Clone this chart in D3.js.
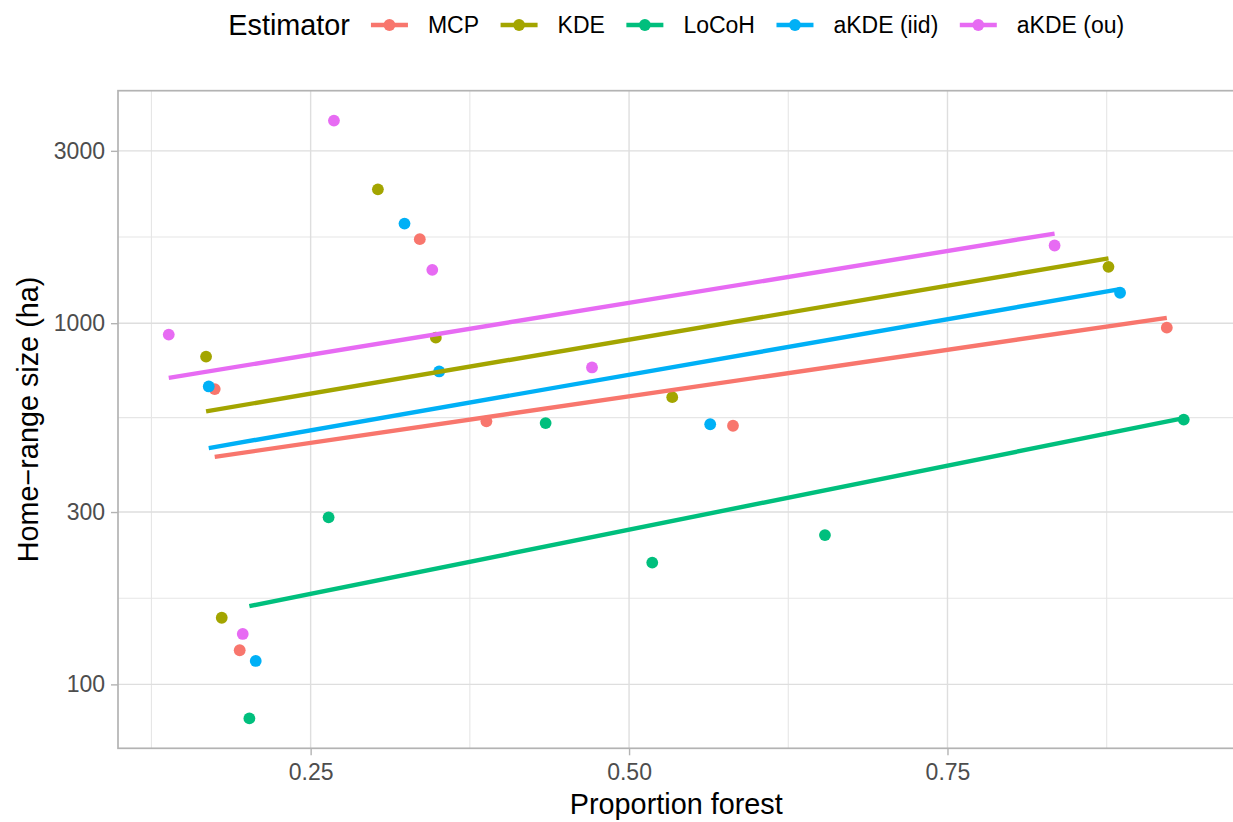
<!DOCTYPE html>
<html>
<head>
<meta charset="utf-8">
<script src="https://cdn.jsdelivr.net/npm/d3@7"></script>
<style>
  html, body { margin: 0; padding: 0; background: #ffffff; }
  svg { display: block; font-family: "Liberation Sans", Arial, Helvetica, sans-serif; }
</style>
</head>
<body>
<svg id="chart" width="1233" height="822"></svg>
<script>
// ---------------- data ----------------
const estimators = ["MCP", "KDE", "LoCoH", "aKDE (iid)", "aKDE (ou)"];
const estimatorColors = ["#F8766D", "#A3A500", "#00BF7D", "#00B0F6", "#E76BF3"];

const forestMCP   = [0.1747, 0.3357, 0.3880, 0.5816, 0.9222, 0.1943];
const areaMCP     = [657, 1708, 535, 520, 972, 124.3];

const forestKDE   = [0.1679, 0.3028, 0.3483, 0.5339, 0.8764, 0.1802];
const areaKDE     = [808, 2347, 912, 624, 1432, 152.9];

const forestLoCoH = [0.2641, 0.4345, 0.5182, 0.6538, 0.9355, 0.2019];
const areaLoCoH   = [290, 529, 217.4, 259, 541, 80.5];

const forestIID   = [0.1700, 0.3237, 0.3509, 0.5637, 0.8855, 0.2069];
const areaIID     = [668, 1887, 735, 525, 1214, 116.1];

const forestOU    = [0.1386, 0.2683, 0.3455, 0.4709, 0.8341, 0.1967];
const areaOU      = [930, 3638, 1405, 754, 1641, 137.9];

const xTickValues = [0.25, 0.50, 0.75];
const xTickLabels = ["0.25", "0.50", "0.75"];
const yTickValues = [100, 300, 1000, 3000];
const yTickLabels = ["100", "300", "1000", "3000"];

const xTitle = "Proportion forest";
const yTitle = "Home\u2212range size (ha)";
const legendTitle = "Estimator";

// ---------------- build ----------------
const forestBy = [forestMCP, forestKDE, forestLoCoH, forestIID, forestOU];
const areaBy   = [areaMCP, areaKDE, areaLoCoH, areaIID, areaOU];
const series = estimators.map((name, i) => ({
  name, color: estimatorColors[i],
  points: forestBy[i].map((f, j) => ({ x: f, y: areaBy[i][j] }))
}));
const allPts = series.flatMap(s => s.points);

const svg = d3.select("#chart");
const panel = { left: 118, right: 1234.5, top: 90.7, bottom: 748.3 };

// ggplot-like 5% expansion
const xExt = d3.extent(allPts, d => d.x);
const xPad = (xExt[1] - xExt[0]) * 0.05;
const x = d3.scaleLinear().domain([xExt[0] - xPad, xExt[1] + xPad]).range([panel.left, panel.right]);

const lyExt = d3.extent(allPts, d => Math.log10(d.y));
const lyPad = (lyExt[1] - lyExt[0]) * 0.05;
const y = d3.scaleLog().domain([Math.pow(10, lyExt[0] - lyPad), Math.pow(10, lyExt[1] + lyPad)])
  .range([panel.bottom, panel.top]);

// grid
const grid = svg.append("g");
const xMinor = [];
const xStep = xTickValues[1] - xTickValues[0];
for (let v = xTickValues[0] - xStep / 2; v <= x.domain()[1]; v += xStep) if (v >= x.domain()[0]) xMinor.push(v);
const yMinor = [];
for (let i = 0; i < yTickValues.length - 1; i++) yMinor.push(Math.sqrt(yTickValues[i] * yTickValues[i + 1]));

grid.selectAll(".xminor").data(xMinor).join("line")
  .attr("x1", d => x(d)).attr("x2", d => x(d)).attr("y1", panel.top).attr("y2", panel.bottom)
  .attr("stroke", "#E6E6E6").attr("stroke-width", 1.1);
grid.selectAll(".yminor").data(yMinor).join("line")
  .attr("y1", d => y(d)).attr("y2", d => y(d)).attr("x1", panel.left).attr("x2", panel.right)
  .attr("stroke", "#E6E6E6").attr("stroke-width", 1.1);
grid.selectAll(".xmajor").data(xTickValues).join("line")
  .attr("x1", d => x(d)).attr("x2", d => x(d)).attr("y1", panel.top).attr("y2", panel.bottom)
  .attr("stroke", "#DEDEDE").attr("stroke-width", 1.4);
grid.selectAll(".ymajor").data(yTickValues).join("line")
  .attr("y1", d => y(d)).attr("y2", d => y(d)).attr("x1", panel.left).attr("x2", panel.right)
  .attr("stroke", "#DEDEDE").attr("stroke-width", 1.4);

// axes (ticks + labels)
const xAxis = d3.axisBottom(x).tickValues(xTickValues).tickFormat((d, i) => xTickLabels[i])
  .tickSizeInner(7).tickSizeOuter(0).tickPadding(8);
const gx = svg.append("g").attr("transform", `translate(0,${panel.bottom})`).call(xAxis);
gx.select(".domain").remove();
gx.selectAll("line").attr("stroke", "#B3B3B3").attr("stroke-width", 1.4);
gx.selectAll("text").attr("fill", "#4D4D4D").attr("font-size", 23).attr("font-family", "Liberation Sans, Arial, sans-serif");

const yAxis = d3.axisLeft(y).tickValues(yTickValues).tickFormat((d, i) => yTickLabels[i])
  .tickSizeInner(7).tickSizeOuter(0).tickPadding(6);
const gy = svg.append("g").attr("transform", `translate(${panel.left},0)`).call(yAxis);
gy.select(".domain").remove();
gy.selectAll("line").attr("stroke", "#B3B3B3").attr("stroke-width", 1.4);
gy.selectAll("text").attr("fill", "#4D4D4D").attr("font-size", 23).attr("font-family", "Liberation Sans, Arial, sans-serif");

// panel border
svg.append("rect")
  .attr("x", panel.left).attr("y", panel.top)
  .attr("width", panel.right - panel.left).attr("height", panel.bottom - panel.top)
  .attr("fill", "none").attr("stroke", "#B3B3B3").attr("stroke-width", 1.7);

// points
const plot = svg.append("g");
series.forEach(s => {
  plot.append("g").selectAll("circle").data(s.points).join("circle")
    .attr("cx", d => x(d.x)).attr("cy", d => y(d.y)).attr("r", 5.9)
    .attr("fill", s.color);
});

// linear fit of log10(area) on forest (geom_smooth, method = "lm")
series.forEach(s => {
  const xs = s.points.map(p => p.x), ls = s.points.map(p => Math.log10(p.y));
  const mx = d3.mean(xs), ml = d3.mean(ls);
  const b = d3.sum(xs, (v, i) => (v - mx) * (ls[i] - ml)) / d3.sum(xs, v => (v - mx) * (v - mx));
  const a = ml - b * mx;
  const [x0, x1] = d3.extent(xs);
  const fit = [x0, x1].map(v => ({ x: v, y: Math.pow(10, a + b * v) }));
  plot.append("path").datum(fit)
    .attr("d", d3.line().x(d => x(d.x)).y(d => y(d.y)))
    .attr("fill", "none").attr("stroke", s.color).attr("stroke-width", 4.4).attr("stroke-linecap", "butt");
});

// axis titles
svg.append("text").attr("x", (panel.left + panel.right) / 2).attr("y", 814)
  .attr("text-anchor", "middle").attr("font-size", 28.8).attr("fill", "#000").text(xTitle);
svg.append("text")
  .attr("transform", `translate(37.5,${(panel.top + panel.bottom) / 2}) rotate(-90)`)
  .attr("text-anchor", "middle").attr("font-size", 28.8).attr("fill", "#000").text(yTitle);

// legend
const leg = svg.append("g");
const legY = 25;
const keyW = 37, keyGap = 20, itemGap = 21.5, titleGap = 21;
const tTitle = leg.append("text").attr("y", 34.5).attr("font-size", 28.8).attr("fill", "#000").text(legendTitle);
let cx = tTitle.node().getComputedTextLength() + titleGap;
series.forEach(s => {
  const g = leg.append("g");
  g.append("line").attr("x1", cx).attr("x2", cx + keyW).attr("y1", legY).attr("y2", legY)
    .attr("stroke", s.color).attr("stroke-width", 4.4);
  g.append("circle").attr("cx", cx + keyW / 2).attr("cy", legY).attr("r", 5.9).attr("fill", s.color);
  const t = g.append("text").attr("x", cx + keyW + keyGap).attr("y", 33)
    .attr("font-size", 23).attr("fill", "#000").text(s.name);
  cx = cx + keyW + keyGap + t.node().getComputedTextLength() + itemGap;
});
const totalW = cx - itemGap;
const legCenter = (panel.left + panel.right) / 2;
leg.attr("transform", `translate(${legCenter - totalW / 2},0)`);
</script>
</body>
</html>
